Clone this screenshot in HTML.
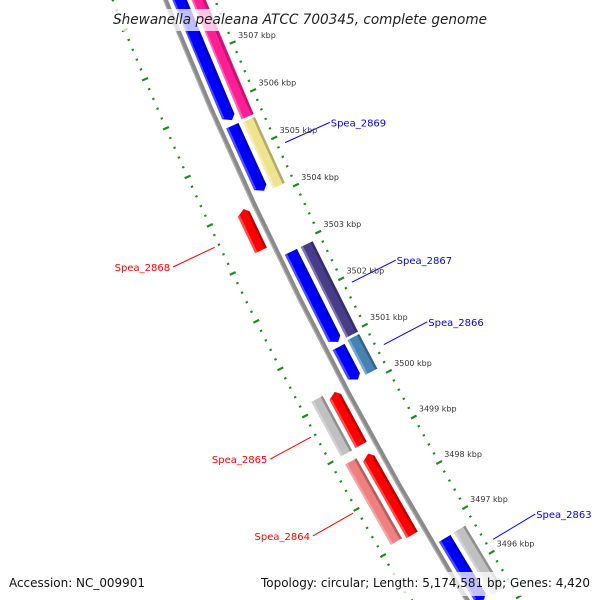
<!DOCTYPE html>
<html><head><meta charset="utf-8"><style>
html,body{margin:0;padding:0;background:#fff}
svg{display:block}
text{font-family:"DejaVu Sans","Liberation Sans",sans-serif}
</style></head><body>
<svg id="map" width="600" height="600" viewBox="0 0 600 600" xmlns="http://www.w3.org/2000/svg">
<rect width="600" height="600" fill="#fff"/>
<g id="rings"></g>
<g id="backbone"></g>
<g id="feats"></g>
<g id="labels"></g>
<g id="kbp"></g>
<rect x="108" y="9" width="384" height="22" fill="#fff" opacity="0.75"/>
<text x="300" y="24" text-anchor="middle" font-size="14" font-style="italic" fill="#222" textLength="374" lengthAdjust="spacingAndGlyphs">Shewanella pealeana ATCC 700345, complete genome</text>
<rect x="4" y="572" width="148" height="24" fill="#fff" opacity="0.75"/>
<text x="9" y="587" font-size="12" fill="#111" textLength="136" lengthAdjust="spacingAndGlyphs">Accession: NC_009901</text>
<rect x="256" y="572" width="340" height="24" fill="#fff" opacity="0.75"/>
<text x="590" y="587" font-size="12" text-anchor="end" fill="#111" textLength="329" lengthAdjust="spacingAndGlyphs">Topology: circular; Length: 5,174,581 bp; Genes: 4,420</text>
</svg>
<script>
// feature data (kbp positions, strand, lane, colour)
const featNames = ["blue-1","blue-2","blue-3","blue-4","blue-5","pink","khaki","purple","steelblue","gray-right","red-1","red-2","red-3","gray-left","lightred"];
const featStart = [3508.6,3505.54,3502.89,3500.86,3496.69,3508.6,3505.52,3502.89,3500.90,3496.70,3503.16,3499.02,3497.06,3499.01,3497.10];
const featEnd   = [3505.64,3504.16,3500.95,3500.14,3495.3,3505.58,3504.13,3500.95,3500.15,3495.3,3504.01,3500.14,3498.81,3500.18,3498.84];
const featStrand = [-1,-1,-1,-1,-1,0,0,0,0,0,1,1,1,0,0];
const featLane = ["A","A","A","A","A","B","B","B","B","B","C","C","C","D","D"];
const featColor = ["#0000ff","#0000ff","#0000ff","#0000ff","#0000ff","#ff1e96","#efe48e","#483d8b","#4682b4","#c0c0c0","#ff0000","#ff0000","#ff0000","#c0c0c0","#f08080"];
// gene labels
const labelText = ["Spea_2869","Spea_2868","Spea_2867","Spea_2866","Spea_2865","Spea_2864","Spea_2863"];
const labelKbp = [3504.83,3503.59,3501.85,3500.5,3499.6,3497.97,3496.2];
const labelSide = [1,-1,1,1,-1,-1,1];
const labelColor = ["#0000ff","#ff0000","#0000ff","#0000ff","#ff0000","#ff0000","#0000ff"];
// ruler ticks
const tickLabels = [3496,3497,3498,3499,3500,3501,3502,3503,3504,3505,3506,3507];
const tickMin = 3494, tickMax = 3509;

const NS="http://www.w3.org/2000/svg";
const R=4000, CX=3878, CY=-1489;
const laneOff = {A:[6,19.5], B:[23.7,37], C:[-20,-7], D:[-37,-24]};
function th(k){return (154.95+(k-3504)*0.754)*Math.PI/180;}
function P(k,off){const r=R-off,t=th(k);return [CX+r*Math.cos(t),CY+r*Math.sin(t)];}
function mk(tag,attrs,parent){const e=document.createElementNS(NS,tag);for(const a in attrs)e.setAttribute(a,attrs[a]);parent.appendChild(e);return e;}
function poly(pts){return "M"+pts.map(p=>p[0].toFixed(2)+","+p[1].toFixed(2)).join("L")+"Z";}
function band(k1,k2,o1,o2){const pts=[];const n=8;for(let i=0;i<=n;i++)pts.push(P(k1+(k2-k1)*i/n,o1));for(let i=n;i>=0;i--)pts.push(P(k1+(k2-k1)*i/n,o2));return poly(pts);}

// rings
const rings=document.getElementById("rings");
[[46,1],[-49,-1]].forEach(([ro,side])=>{
  for(let i=Math.round(tickMin*5);i<=tickMax*5;i++){
    const k=i/5, major=(i%5===0);
    const half=major?3.2:1.2;
    const a=P(k,ro-half),b=P(k,ro+half);
    const l=mk("line",{x1:a[0],y1:a[1],x2:b[0],y2:b[1],stroke:"#1f8a1f","stroke-width":major?2.2:2},rings);
    
    
  }
});

// backbone
const bb=document.getElementById("backbone");
const b1=mk("path",{d:band(3494,3510,-2.4,2.4),fill:"#8a8a8a"},bb);


const b2=mk("path",{d:band(3494,3510,-2.4,-1.2),fill:"#b0b0b0"},bb);



// features
const fg=document.getElementById("feats");
for(let i=0;i<featNames.length;i++){
  const [o1,o2]=laneOff[featLane[i]];
  const kHi=Math.max(featStart[i],featEnd[i]), kLo=Math.min(featStart[i],featEnd[i]);
  const s=featStrand[i], h=0.09, mid=(o1+o2)/2;
  let pts, bHi=kHi, bLo=kLo;
  if(s<0){bLo=kLo+h;pts=[P(kHi,o1),P(bLo,o1),P(kLo,mid+2),P(bLo,o2),P(kHi,o2)];}
  else if(s>0){bHi=kHi-h;pts=[P(kLo,o1),P(bHi,o1),P(kHi,mid+2),P(bHi,o2),P(kLo,o2)];}
  else pts=[P(kHi,o1),P(kLo,o1),P(kLo,o2),P(kHi,o2)];
  const g=mk("g",{},fg);
  
  
  const m=mk("path",{d:poly(pts),fill:featColor[i]},g);
  
  
  const lt=mk("path",{d:band(bLo,bHi,o1,o1+2.5),fill:"#fff",opacity:0.3},g);
  
  
  const dk=mk("path",{d:band(bLo,bHi,o2-2.5,o2),fill:"#000",opacity:0.25},g);
  
  
}

// gene labels
const lg=document.getElementById("labels");
for(let i=0;i<labelText.length;i++){
  const sd=labelSide[i];
  const a=P(labelKbp[i],sd>0?54:-54), b=P(labelKbp[i],sd>0?103:-100);
  const l=mk("line",{x1:a[0],y1:a[1],x2:b[0],y2:b[1],stroke:labelColor[i],"stroke-width":1},lg);
  
  
  const t=mk("text",{x:sd>0?b[0]+1:b[0]-3,y:b[1]+4,"font-size":10,fill:labelColor[i],"text-anchor":sd>0?"start":"end"},lg);
  t.textContent=labelText[i];
  
  
}

// kbp labels
const kg=document.getElementById("kbp");
tickLabels.forEach(k=>{
  const a=P(k,53);
  const t=mk("text",{x:a[0]-1,y:a[1]-2,"font-size":8,fill:"#333"},kg);
  t.textContent=k+" kbp";
  
  
});
</script>
</body></html>
